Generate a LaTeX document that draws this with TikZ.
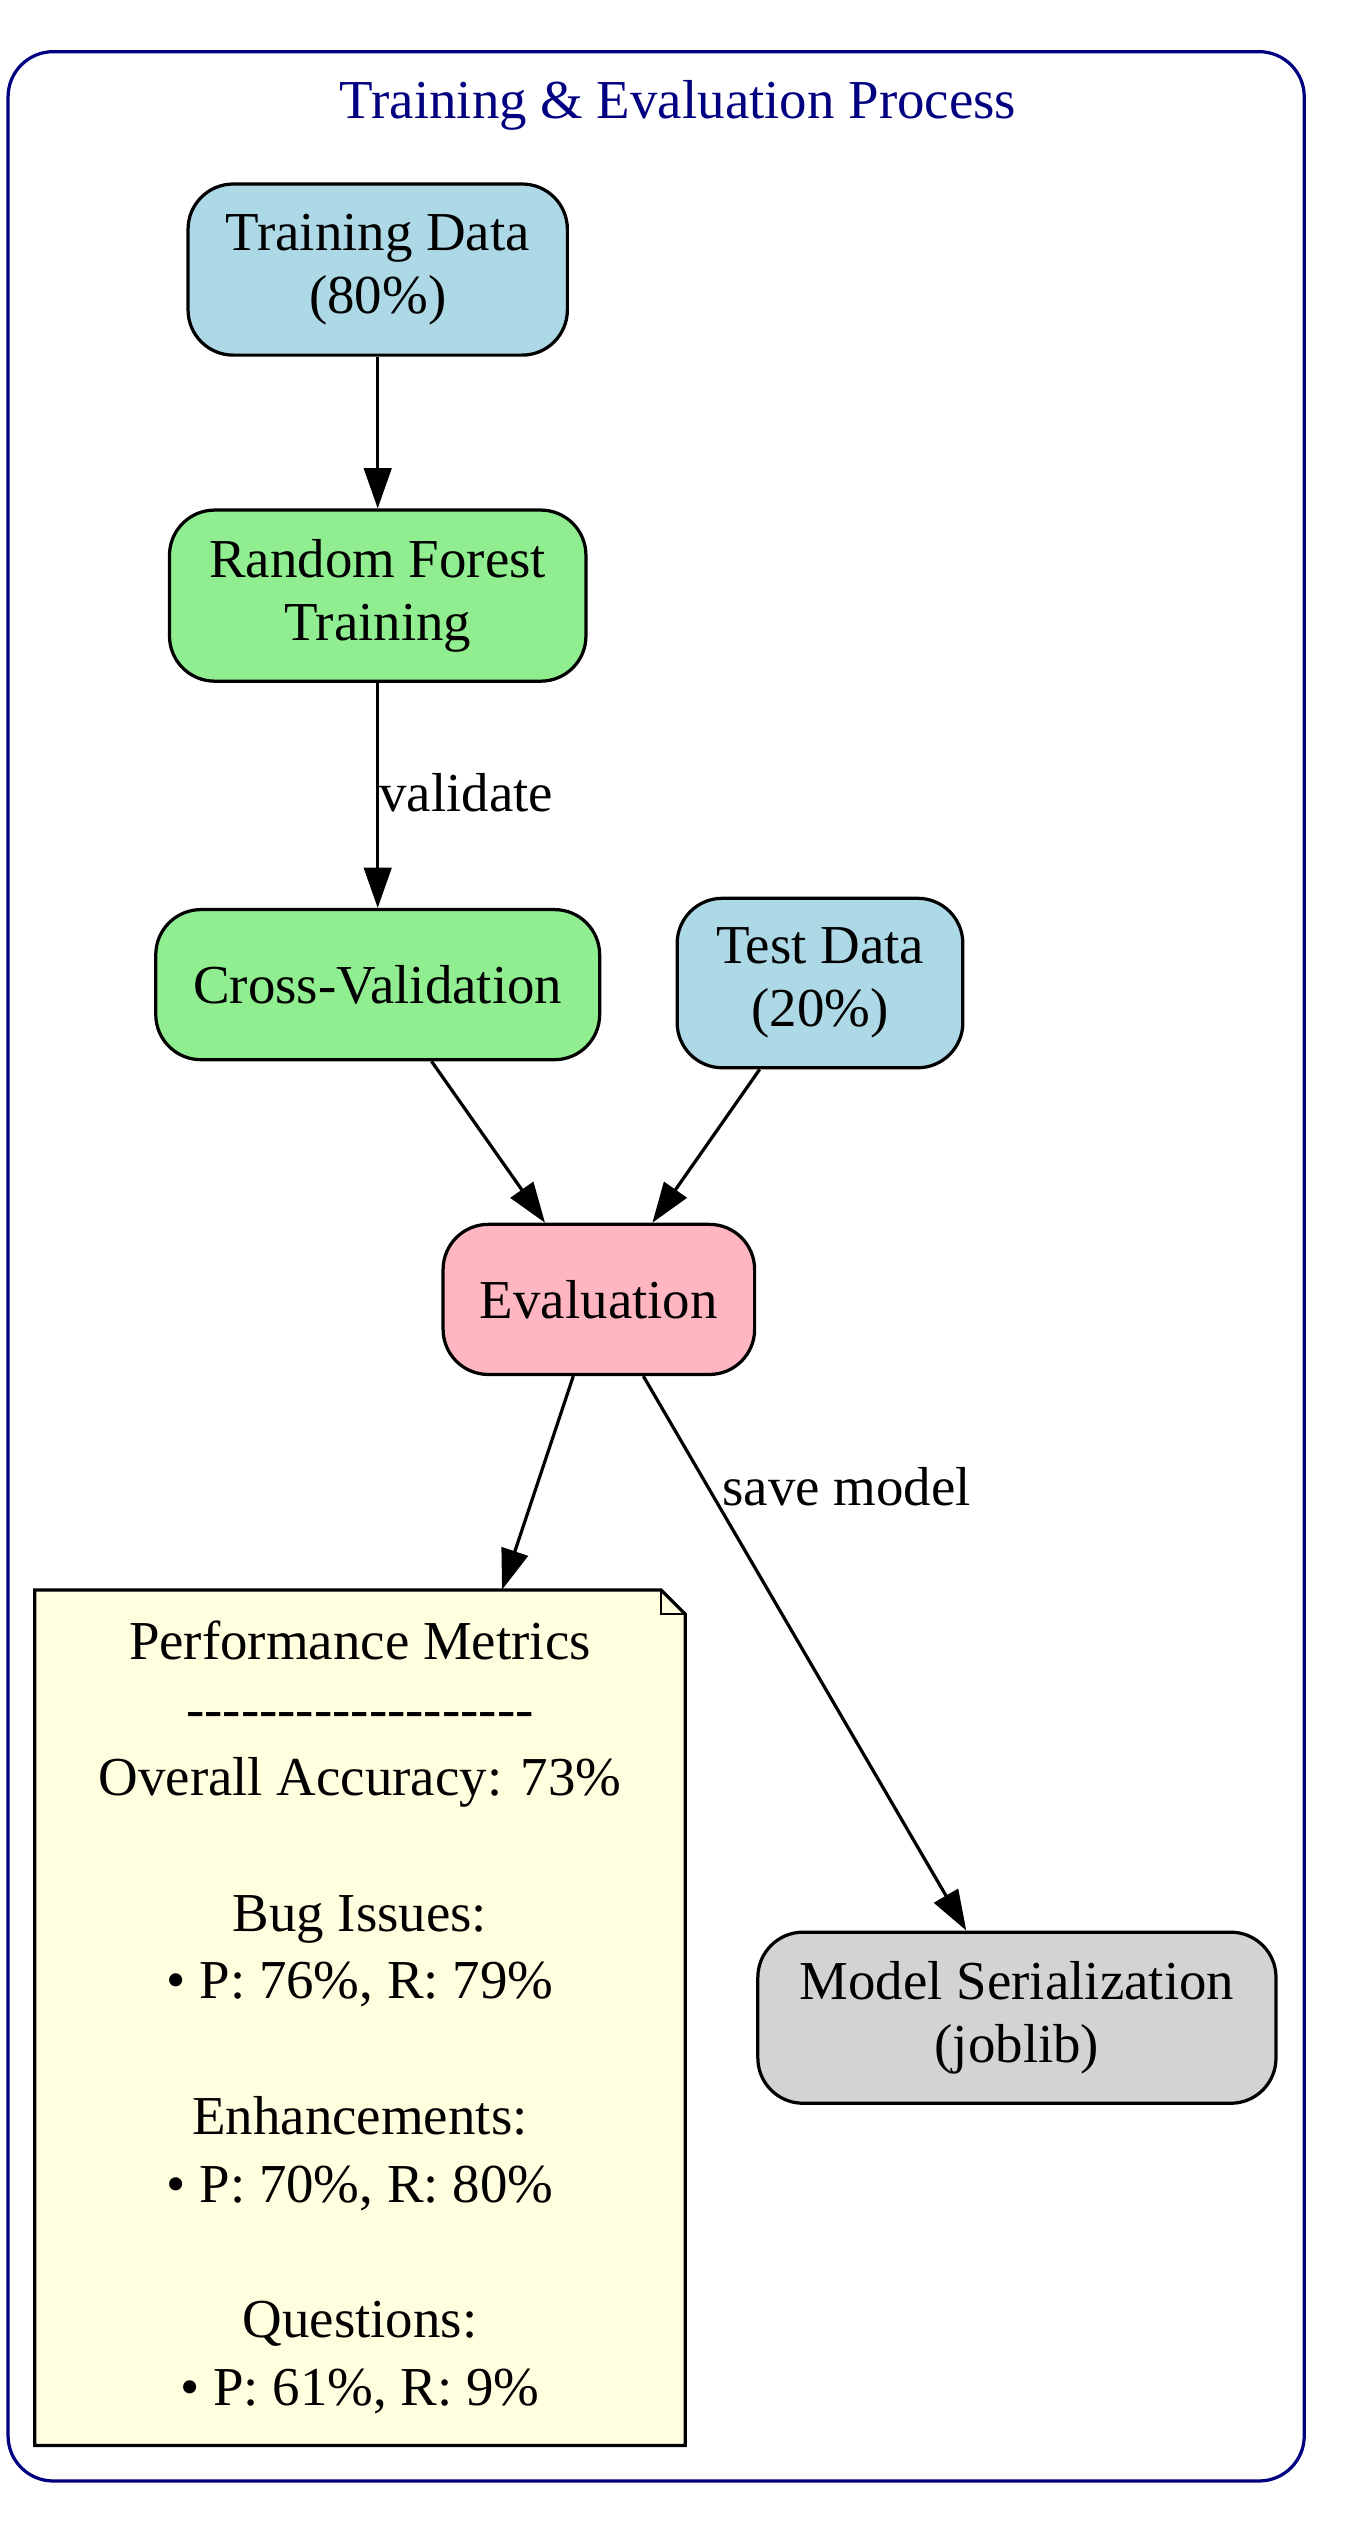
\documentclass[tikz,border=0pt]{standalone}
\usepackage{fontspec}
\setmainfont{Liberation Serif}
\usetikzlibrary{arrows.meta,calc}
\definecolor{lblue}{HTML}{ADD8E6}
\definecolor{lgreen}{HTML}{90EE90}
\definecolor{lpink}{HTML}{FFB6C1}
\definecolor{lgrey}{HTML}{D3D3D3}
\definecolor{lyellow}{HTML}{FFFFE0}
\definecolor{navyc}{HTML}{000080}
\newcommand\hy{-\kern0pt}
\begin{document}
\begin{tikzpicture}[x=1pt,y=-1pt,
  box/.style={draw, line width=2pt, rounded corners=28pt, font=\fontsize{34}{39}\selectfont, align=center, inner sep=0pt},
  arr/.style={line width=2pt, -{Triangle[length=25pt,width=17pt]}},
  lbl/.style={font=\fontsize{34}{39}\selectfont, inner sep=0pt}]
\useasboundingbox (0,0) rectangle (841,1568);
\draw[navyc, line width=2pt, rounded corners=28pt] (5,32) rectangle (808,1537);
\node[text=navyc, font=\fontsize{34}{39}\selectfont] (title) at (420,65) {Training \& Evaluation Process};

\node[box, fill=lblue, minimum width=235pt, minimum height=106pt] (train) at (234,167) {Training Data\\(80\%)};
\node[box, fill=lgreen, minimum width=258pt, minimum height=106pt] (rf) at (234,369) {Random Forest\\Training};
\node[box, fill=lgreen, minimum width=275pt, minimum height=93pt] (cv) at (234,610) {Cross-Validation};
\node[box, fill=lblue, minimum width=177pt, minimum height=105pt] (test) at (508,609) {Test Data\\(20\%)};
\node[box, fill=lpink, minimum width=193pt, minimum height=93pt] (eval) at (371,805) {Evaluation};
\node[box, fill=lgrey, minimum width=321pt, minimum height=106pt] (model) at (630,1250) {Model Serialization\\(joblib)};

\coordinate (pc) at (223,1250);
\path[fill=lyellow, draw, line width=2pt] ($(pc)+(-201.5,-265)$) -- ($(pc)+(186.5,-265)$) -- ($(pc)+(201.5,-250)$) -- ($(pc)+(201.5,265)$) -- ($(pc)+(-201.5,265)$) -- cycle;
\draw[line width=1.3pt] ($(pc)+(186.5,-265)$) -- ($(pc)+(186.5,-250)$) -- ($(pc)+(201.5,-250)$);
\node[minimum width=403pt, minimum height=530pt, inner sep=0pt, align=center,
  font=\fontsize{34}{42}\selectfont] (perf) at (pc)
  {Performance Metrics\\\hy\hy\hy\hy\hy\hy\hy\hy\hy\hy\hy\hy\hy\hy\hy\hy\hy\hy\hy\\Overall Accuracy: 73\%\\[42pt]
   Bug Issues:\\• P: 76\%, R: 79\%\\[42pt]
   Enhancements:\\• P: 70\%, R: 80\%\\[42pt]
   Questions:\\• P: 61\%, R: 9\%};

\draw[arr] (train) -- (rf);
\draw[arr] (rf) -- node[lbl, pos=0.49, right] {validate} (cv);
\draw[arr] (cv) -- (eval);
\draw[arr] (test) -- (eval);
\draw[arr] (eval) -- (perf);
\draw[arr] (eval) -- node[lbl, pos=0.2, right, xshift=8pt] {save model} (model);
\end{tikzpicture}
\end{document}
